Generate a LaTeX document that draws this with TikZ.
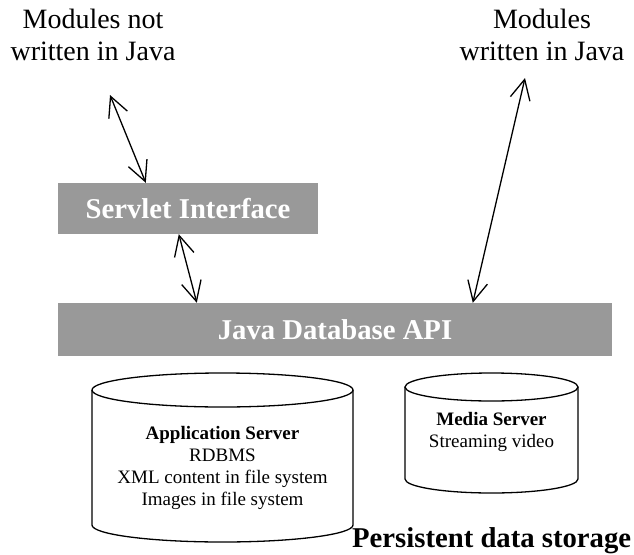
\documentclass[tikz,border=0pt]{standalone}
\usepackage{fontspec}
\setmainfont{Liberation Serif}
\usetikzlibrary{arrows.meta,calc}

\definecolor{boxgray}{RGB}{153,153,153}

\tikzset{
  layerbox/.style={fill=boxgray, draw=none, inner sep=0pt, text=white,
    font=\fontsize{28.7}{32}\selectfont\bfseries},
  caption/.style={align=center, inner sep=0pt,
    font=\fontsize{28}{32}\selectfont},
  storetext/.style={align=center, inner sep=0pt,
    font=\fontsize{19}{22}\selectfont},
  link/.style={line width=1.3pt, {Straight Barb[length=20pt,width=20pt]}-{Straight Barb[length=20pt,width=20pt]}},
  drum/.style={line width=1.3pt},
}

\begin{document}
\begin{tikzpicture}[x=1pt, y=-1pt]
  \useasboundingbox (0,0) rectangle (634,554);

  % captions for the two kinds of client modules (anchored on the last line)
  \node[caption, anchor=base] (nonjava) at (93,60) {Modules not\\written in Java};
  \node[caption, anchor=base] (java) at (542,60) {Modules\\written in Java};

  % the two software layers
  \node[layerbox, minimum width=260pt, minimum height=51pt] (servlet) at (188,208.5) {Servlet Interface};
  \node[layerbox, minimum width=554pt, minimum height=53pt] (api) at (335,329.5) {Java Database API};

  % free ends of the connectors near the captions
  \coordinate (nonjavaend) at (110,95);
  \coordinate (javaend) at (525,78);

  % connectors
  \draw[link] (nonjavaend) -- ($(servlet.north west)+(88,0)$);
  \draw[link] ($(servlet.south west)+(121,0)$) -- ($(api.north west)+(139,0)$);
  \draw[link] (javaend) -- ($(api.north west)+(415,0)$);

  % application server store
  \draw[drum] (222.5,390) ellipse [x radius=130.5, y radius=17];
  \draw[drum] (92,390) -- (92,525) arc[start angle=180, end angle=0, x radius=130.5, y radius=17] -- (353,390);
  \node[storetext, anchor=base] (appserver) at (222.5,505)
    {\textbf{Application Server}\\RDBMS\\XML content in file system\\Images in file system};

  % media server store
  \draw[drum] (491.5,387) ellipse [x radius=86.5, y radius=14];
  \draw[drum] (405,387) -- (405,479) arc[start angle=180, end angle=0, x radius=86.5, y radius=14] -- (578,387);
  \node[storetext, anchor=base] (mediaserver) at (491.5,447)
    {\textbf{Media Server}\\Streaming video};

  \node[anchor=base west, inner sep=0pt, font=\fontsize{28.7}{32}\selectfont\bfseries] (storage) at (352,547)
    {Persistent data storage};
\end{tikzpicture}
\end{document}
